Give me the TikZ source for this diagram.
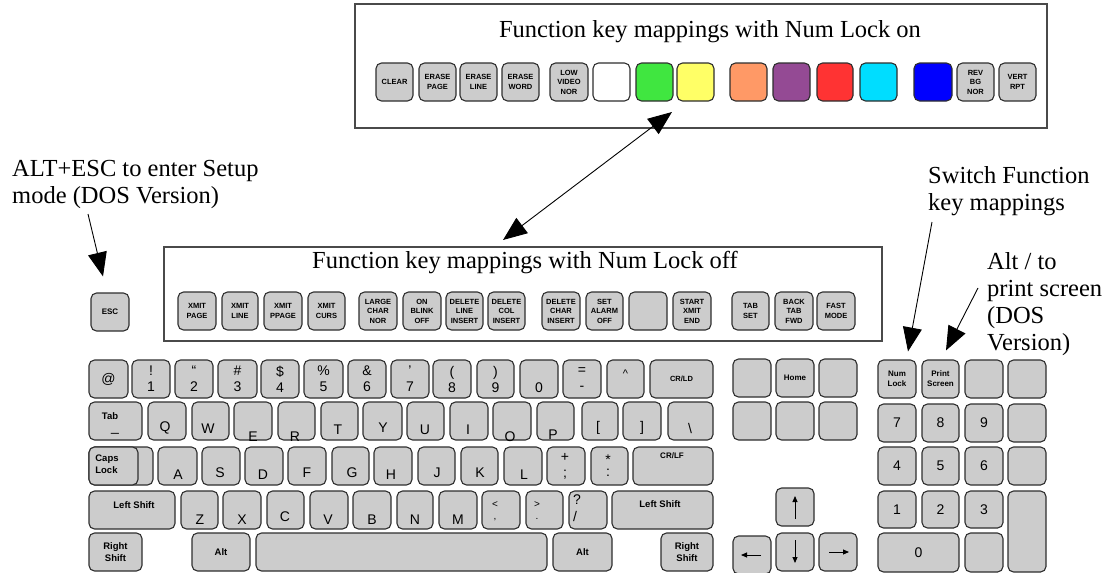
\documentclass[tikz,border=0pt]{standalone}
\usepackage{fontspec}
\setmainfont{Liberation Serif}
\setsansfont{Liberation Sans}
\usetikzlibrary{arrows.meta,calc}
\definecolor{keygray}{HTML}{CCCCCC}
\definecolor{keyline}{HTML}{2E2E2E}
\definecolor{boxline}{HTML}{4A4A4A}
\definecolor{kgreen}{HTML}{40E640}
\definecolor{kyellow}{HTML}{FFFF66}
\definecolor{korange}{HTML}{FF9966}
\definecolor{kpurple}{HTML}{944A94}
\definecolor{kred}{HTML}{FF3333}
\definecolor{kcyan}{HTML}{00DDFF}
\definecolor{kblue}{HTML}{0000FF}
\newcommand\fkfont{\sffamily\bfseries\fontsize{7.5}{9.5}\selectfont}
\newcommand\skfont{\sffamily\bfseries\fontsize{8}{10}\selectfont}
\newcommand\ltfont{\sffamily\fontsize{14}{16}\selectfont}
\newcommand\bkfont{\sffamily\bfseries\fontsize{9.5}{12}\selectfont}
\newcommand\annfont{\fontsize{24.5}{27}\selectfont}
\newcommand\kkey[7][]{\node[kbkey,minimum width={(#5)-(#3)},minimum height={(#6)-(#4)},#1] (#2) at ({((#3)+(#5))/2},{((#4)+(#6))/2}) {#7};}
\newcommand\lab[5][]{\node[lab,#1] (#2) at (#3,#4) {#5};}
\begin{document}
\begin{tikzpicture}[x=1pt,y=-1pt,
  kbkey/.style={draw=keyline, fill=keygray, line width=1.1pt, rounded corners=5.5pt, inner sep=0pt, align=center, font=\fkfont},
  lab/.style={inner sep=0pt, font=\ltfont},
  boxst/.style={draw=boxline, line width=1.3pt, inner sep=0pt},
  ann/.style={font=\annfont, align=left, inner sep=0pt},
  callout/.style={line width=0.9pt, -{Triangle[length=24pt,width=19pt]}},
  dcallout/.style={line width=0.9pt, {Triangle[length=24pt,width=19pt]}-{Triangle[length=24pt,width=19pt]}},
  kar/.style={line width=0.9pt, -{Triangle[length=6pt,width=5pt]}}]
\useasboundingbox (0,0) rectangle (1112,573);

% ---------- Num Lock on box ----------
\node[boxst, minimum width=692, minimum height=124] (onbox) at (701,66) {};
\node[anchor=base, font=\annfont, inner sep=0pt] (ontitle) at (710,37) {Function key mappings with Num Lock on};
\kkey{on1}{376}{63}{413}{101}{CLEAR}
\kkey{on2}{419}{63}{456}{101}{ERASE\\PAGE}
\kkey{on3}{460}{63}{497}{101}{ERASE\\LINE}
\kkey{on4}{502}{63}{539}{101}{ERASE\\WORD}
\kkey{on5}{550}{63}{588}{101}{LOW\\VIDEO\\NOR}
\kkey[fill=white]{on6}{593}{63}{630}{101}{}
\kkey[fill=kgreen]{on7}{636}{63}{673}{101}{}
\kkey[fill=kyellow]{on8}{677}{63}{714}{101}{}
\kkey[fill=korange]{on9}{730}{63}{767}{101}{}
\kkey[fill=kpurple]{on10}{773}{63}{810}{101}{}
\kkey[fill=kred]{on11}{817}{63}{853}{101}{}
\kkey[fill=kcyan]{on12}{860}{63}{897}{101}{}
\kkey[fill=kblue]{on13}{914}{63}{952}{101}{}
\kkey{on14}{957}{63}{994}{101}{REV\\BG\\NOR}
\kkey{on15}{999}{63}{1036}{101}{VERT\\RPT}

% ---------- Num Lock off box ----------
\node[boxst, minimum width=718, minimum height=94] (offbox) at (523,294) {};
\node[anchor=base, font=\annfont, inner sep=0pt] (offtitle) at (525,268) {Function key mappings with Num Lock off};
\kkey{off1}{178}{292}{216}{330}{XMIT\\PAGE}
\kkey{off2}{222}{292}{258}{330}{XMIT\\LINE}
\kkey{off3}{264}{292}{302}{330}{XMIT\\PPAGE}
\kkey{off4}{308}{292}{345}{330}{XMIT\\CURS}
\kkey{off5}{359}{292}{397}{330}{LARGE\\CHAR\\NOR}
\kkey{off6}{403}{292}{441}{330}{ON\\BLINK\\OFF}
\kkey{off7}{446}{292}{483}{330}{DELETE\\LINE\\INSERT}
\kkey{off8}{488}{292}{525}{330}{DELETE\\COL\\INSERT}
\kkey{off9}{542}{292}{580}{330}{DELETE\\CHAR\\INSERT}
\kkey{off10}{586}{292}{623}{330}{SET\\ALARM\\OFF}
\kkey{off11}{629}{292}{667}{330}{}
\kkey{off12}{673}{292}{711}{330}{START\\XMIT\\END}
\kkey{off13}{732}{292}{769}{330}{TAB\\SET}
\kkey{off14}{775}{292}{813}{330}{BACK\\TAB\\FWD}
\kkey{off15}{817}{292}{855}{330}{FAST\\MODE}

% ---------- ESC ----------
\kkey[font=\skfont]{esc}{91}{293}{129}{331}{ESC}

% ---------- Row 1 ----------
\kkey[font=\ltfont]{kat}{89}{360}{128}{398}{@}
\kkey[font=\ltfont]{k1}{132}{360}{170}{398}{!\\1}
\kkey[font=\ltfont]{k2}{175}{360}{213}{398}{\textquotedblleft\\2}
\kkey[font=\ltfont]{k3}{218}{360}{257}{398}{\#\\3}
\kkey[font=\ltfont]{k4}{261}{360}{299}{398}{\$\\4}
\kkey[font=\ltfont]{k5}{304}{360}{343}{398}{\%\\5}
\kkey[font=\ltfont]{k6}{348}{360}{386}{398}{\&\\6}
\kkey[font=\ltfont]{k7}{391}{360}{429}{398}{'\\7}
\kkey[font=\ltfont]{k8}{433}{360}{471}{398}{(\\8}
\kkey[font=\ltfont]{k9}{477}{360}{514}{398}{)\\9}
\kkey{k0}{520}{360}{558}{398}{}
\lab{l0}{539}{388}{0}
\kkey[font=\ltfont]{kmin}{563}{360}{601}{398}{=\\-}
\kkey{kcar}{607}{360}{644}{398}{}
\lab[font=\sffamily\fontsize{11}{12}\selectfont]{lcar}{625.5}{374}{\textasciicircum}
\kkey{kcrld}{650}{360}{713}{398}{CR/LD}

% ---------- Row 2 ----------
\kkey{ktab}{89}{402}{142}{440}{}
\lab[font=\bkfont]{ltab}{110}{416}{Tab}
\lab{ltabu}{115}{433}{\_}
\kkey{kq}{148}{402}{186}{440}{}
\kkey{kw}{192}{402}{229}{440}{}
\kkey{ke}{234}{402}{272}{440}{}
\kkey{kr}{278}{402}{315}{440}{}
\kkey{kt}{321}{402}{358}{440}{}
\kkey{ky}{363}{402}{402}{440}{}
\kkey{ku}{407}{402}{444}{440}{}
\kkey{ki}{450}{402}{488}{440}{}
\kkey{ko}{493}{402}{531}{440}{}
\kkey{kp}{537}{402}{574}{440}{}
\kkey{klb}{582}{402}{618}{440}{}
\kkey{krb}{623}{402}{661}{440}{}
\kkey{kbs}{668}{402}{713}{440}{}
\lab{lq}{165}{428}{Q}
\lab{lw}{208}{429}{W}
\lab{le}{253}{437}{E}
\lab{lr}{295}{437}{R}
\lab{lt}{338}{430}{T}
\lab{ly}{383}{428}{Y}
\lab{lu}{425}{430}{U}
\lab{li}{468}{430}{I}
\lab{lo}{510}{437}{O}
\lab{lp}{553}{435}{P}
\lab{llb}{598}{428}{[}
\lab{lrb}{642}{428}{]}
\lab{lbs}{690}{428}{\textbackslash}

% ---------- Row 3 ----------
\kkey{kcapsb}{89}{447}{153}{485}{}
\kkey{kcaps}{89}{447}{138}{485}{}
\lab[font=\bkfont, align=left]{lcaps}{107}{464}{Caps\\Lock}
\kkey{ka}{158}{447}{197}{485}{}
\kkey{ks}{202}{447}{240}{485}{}
\kkey{kd}{245}{447}{283}{485}{}
\kkey{kf}{288}{447}{326}{485}{}
\kkey{kg}{332}{447}{369}{485}{}
\kkey{kh}{374}{447}{412}{485}{}
\kkey{kj}{418}{447}{455}{485}{}
\kkey{kk}{461}{447}{498}{485}{}
\kkey{kl}{504}{447}{542}{485}{}
\kkey{ksemi}{547}{447}{585}{485}{}
\kkey{kcolon}{591}{447}{628}{485}{}
\kkey{kcrlf}{633}{447}{713}{485}{}
\lab[font=\skfont]{lcrlf}{672}{456}{CR/LF}
\lab{la}{178}{475}{A}
\lab{ls}{220}{473}{S}
\lab{ld}{263}{475}{D}
\lab{lf}{307}{473}{F}
\lab{lg}{352}{473}{G}
\lab{lh}{391}{475}{H}
\lab{lj}{437}{473}{J}
\lab{lk}{480}{473}{K}
\lab{ll}{524}{475}{L}
\lab{lplus}{565}{457}{+}
\lab{lsemi}{565}{475}{;}
\lab{last}{608}{460}{*}
\lab{lcol}{608}{473}{:}

% ---------- Row 4 ----------
\kkey{klsh}{89}{491}{175}{529}{}
\lab[font=\bkfont]{llsh}{134}{505}{Left Shift}
\kkey{kz}{181}{491}{218}{529}{}
\kkey{kx}{223}{491}{261}{529}{}
\kkey{kc}{267}{491}{304}{529}{}
\kkey{kv}{310}{491}{348}{529}{}
\kkey{kb}{353}{491}{391}{529}{}
\kkey{kn}{397}{491}{433}{529}{}
\kkey{km}{439}{491}{477}{529}{}
\kkey{kcomma}{482}{491}{520}{529}{}
\kkey{kdot}{526}{491}{563}{529}{}
\kkey{kslash}{569}{491}{607}{529}{}
\kkey{krsh}{612}{491}{713}{529}{}
\lab[font=\bkfont]{lrsh}{660}{504}{Left Shift}
\lab{lz}{200}{520}{Z}
\lab{lx}{242}{520}{X}
\lab{lc}{285}{517}{C}
\lab{lv}{328}{520}{V}
\lab{lb}{372}{520}{B}
\lab{ln}{415}{520}{N}
\lab{lm}{458}{520}{M}
\lab[font=\sffamily\fontsize{10}{11}\selectfont]{llt}{495}{505}{<}
\lab[font=\sffamily\fontsize{10}{11}\selectfont]{lcm}{495}{520}{,}
\lab[font=\sffamily\fontsize{10}{11}\selectfont]{lgt}{537}{505}{>}
\lab[font=\sffamily\fontsize{10}{11}\selectfont]{ldt}{537}{519}{.}
\lab{lqm}{577}{500}{?}
\lab{lsl}{575}{516}{/}

% ---------- Row 5 ----------
\kkey[font=\bkfont]{krs1}{89}{533}{142}{571}{Right\\Shift}
\kkey[font=\bkfont]{kalt1}{192}{533}{250}{571}{Alt}
\kkey{kspace}{256}{533}{547}{571}{}
\kkey[font=\bkfont]{kalt2}{553}{533}{612}{571}{Alt}
\kkey[font=\bkfont]{krs2}{661}{533}{713}{571}{Right\\Shift}

% ---------- Navigation ----------
\kkey{nv1}{733}{359}{771}{397}{}
\kkey[font=\skfont]{nv2}{776}{359}{814}{397}{Home}
\kkey{nv3}{819}{359}{857}{397}{}
\kkey{nv4}{733}{402}{771}{440}{}
\kkey{nv5}{776}{402}{814}{440}{}
\kkey{nv6}{819}{402}{857}{440}{}
\kkey{kup}{776}{488}{814}{526}{}
\kkey{kleft}{733}{536}{771}{574}{}
\kkey{kdown}{776}{533}{814}{571}{}
\kkey{kright}{819}{533}{857}{571}{}
\draw[kar] ($(kup.center)+(0,12)$) -- ($(kup.center)+(0,-11)$);
\draw[kar] ($(kdown.center)+(0,-12)$) -- ($(kdown.center)+(0,11)$);
\draw[kar] ($(kleft.center)+(9,0)$) -- ($(kleft.center)+(-11,0)$);
\draw[kar] ($(kright.center)+(-9,0)$) -- ($(kright.center)+(11,0)$);

% ---------- Numeric pad ----------
\kkey[font=\skfont]{numlock}{878}{360}{916}{398}{Num\\Lock}
\kkey[font=\skfont]{prtsc}{922}{360}{959}{398}{Print\\Screen}
\kkey{np3}{965}{360}{1003}{398}{}
\kkey{np4}{1008}{360}{1046}{398}{}
\kkey[font=\ltfont]{n7}{878}{404}{916}{442}{7}
\kkey[font=\ltfont]{n8}{922}{404}{959}{442}{8}
\kkey[font=\ltfont]{n9}{965}{404}{1003}{442}{9}
\kkey{np8}{1008}{404}{1046}{442}{}
\kkey[font=\ltfont]{n4}{878}{447}{916}{485}{4}
\kkey[font=\ltfont]{n5}{922}{447}{959}{485}{5}
\kkey[font=\ltfont]{n6}{965}{447}{1003}{485}{6}
\kkey{np12}{1008}{447}{1046}{485}{}
\kkey[font=\ltfont]{n1}{878}{491}{916}{528}{1}
\kkey[font=\ltfont]{n2}{922}{491}{959}{528}{2}
\kkey[font=\ltfont]{n3}{965}{491}{1003}{528}{3}
\kkey{nplus}{1008}{491}{1046}{572}{}
\kkey[font=\ltfont]{n0}{878}{533}{959}{572}{0}
\kkey{ndot}{965}{533}{1003}{572}{}

% ---------- Annotations ----------
\node[ann, anchor=base west] (escnote) at (12,203) {ALT+ESC to enter Setup\\mode (DOS Version)};
\node[ann, anchor=base west] (swnote) at (928,210) {\fontsize{24.5}{28}\selectfont Switch Function\\key mappings};
\node[ann, anchor=base west] (altnote) at (987,350) {\fontsize{24.5}{25.5}\selectfont Alt / to\\print screen\\(DOS\\Version)};

\coordinate (escfrom) at (88,214);
\coordinate (swfrom) at (932,222);
\coordinate (altfrom) at (978,288);
\coordinate (dblA) at (672,112);
\coordinate (dblB) at (503,240);
\draw[callout] (escfrom) -- ($(esc.north)+(-7,-16)$);
\draw[callout] (swfrom) -- ($(numlock.north)+(11,-8)$);
\draw[callout] (altfrom) -- ($(prtsc.north)+(5.5,-9)$);
\draw[dcallout] (dblB) -- (dblA);
\end{tikzpicture}
\end{document}
